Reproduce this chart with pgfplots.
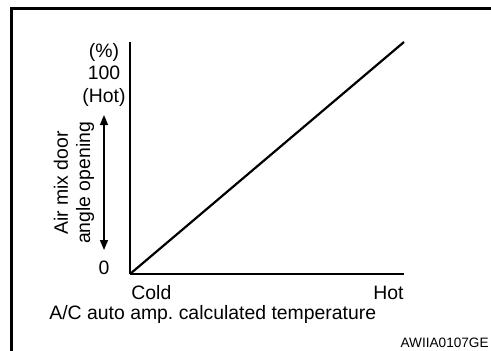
\documentclass[border=0pt]{standalone}
\usepackage{pgfplots}
\pgfplotsset{compat=1.18}
\usepackage{fontspec}
\setmainfont{Liberation Sans}
\usetikzlibrary{arrows.meta}
\begin{document}
\begin{tikzpicture}[font=\fontsize{9.7}{11}\selectfont]
\begin{scope}[x=0.5pt,y=0.5pt]
\useasboundingbox (0,0) rectangle (491,350);
% outer frame (only top and left visible)
\draw[line width=1.6pt] (11.5,-10) -- (11.5,341.5) -- (500,341.5);
\end{scope}
\begin{axis}[
  at={(65pt,38pt)}, anchor=south west,
  scale only axis, width=137pt, height=116pt,
  xmin=0, xmax=1, ymin=0, ymax=1,
  axis lines*=left,
  axis line style={line width=0.8pt},
  xtick=\empty, ytick=\empty,
  clip=false,
]
\addplot[black, line width=1.1pt] coordinates {(0,0) (1,1)};
\end{axis}
\begin{scope}[x=0.5pt,y=0.5pt]
\node at (104,298) {(\%)};
\node at (104,277) {100};
\node at (104,253) {(Hot)};
\node at (104,82) {0};
\draw[line width=0.6pt, {Triangle[length=5pt,width=4pt]}-{Triangle[length=5pt,width=4pt]}] (104,235) -- (104,100);
\node[rotate=90] at (61,167) {Air mix door};
\node[rotate=90] at (85,167) {angle opening};
\node[anchor=west, inner sep=0pt] at (131,57) {Cold};
\node[anchor=east, inner sep=0pt] at (404,57) {Hot};
\node[anchor=west, inner sep=0pt] at (49,36) {A/C auto amp.\ calculated temperature};
\node[anchor=east, inner sep=0pt, font=\fontsize{6.8}{8}\selectfont] at (489,7) {AWIIA0107GE};
\end{scope}
\end{tikzpicture}
\end{document}
